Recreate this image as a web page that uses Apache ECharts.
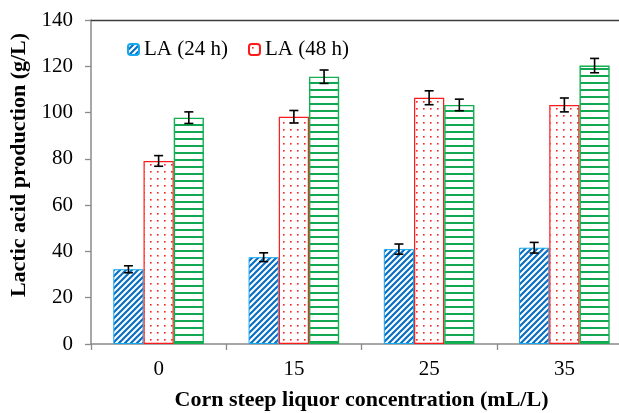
<!DOCTYPE html>
<html>
<head>
<meta charset="utf-8">
<script src="https://cdn.jsdelivr.net/npm/echarts@6/dist/echarts.min.js"></script>
<style>
  html, body { margin: 0; padding: 0; background: #fff; }
  #chart { width: 619px; height: 413px; }
</style>
</head>
<body>
<div id="chart"></div>
<script>
// Corn steep liquor concentrations (mL/L)
const categories = ['0', '15', '25', '35'];

// Lactic acid production (g/L) with standard deviations
const la24 = [32.3, 37.5, 41.0, 41.6];
const la24Err = [1.5, 1.9, 2.2, 2.3];
const la48 = [79.1, 98.2, 106.4, 103.3];
const la48Err = [2.3, 2.7, 3.0, 3.0];
const la72 = [97.8, 115.5, 103.3, 120.3];
const la72Err = [2.5, 2.9, 2.5, 3.1];

const yTicks = { min: 0, max: 140, interval: 20 };

const FONT = '"Liberation Serif", "Times New Roman", serif';
const CAT_GAP = 0.33;   // fraction of band left empty between groups
const N_BARS = 3;

// ---- fill patterns ----
function makeTile(w, h, draw) {
  const c = document.createElement('canvas');
  c.width = w; c.height = h;
  const ctx = c.getContext('2d');
  ctx.fillStyle = '#ffffff';
  ctx.fillRect(0, 0, w, h);
  draw(ctx, w, h);
  return c;
}

const stripeTile = makeTile(6, 6, (ctx, w, h) => {
  ctx.strokeStyle = '#0a6fc2';
  ctx.lineWidth = 2.2;
  ctx.beginPath();
  ctx.moveTo(-1, h + 1); ctx.lineTo(w + 1, -1);
  ctx.moveTo(-1, 1); ctx.lineTo(1, -1);
  ctx.moveTo(w - 1, h + 1); ctx.lineTo(w + 1, h - 1);
  ctx.stroke();
});

const dotTile = makeTile(7, 7, (ctx) => {
  ctx.fillStyle = '#ff2020';
  ctx.fillRect(3, 3, 1.6, 1.6);
});

const lineTile = makeTile(4, 7, (ctx, w) => {
  ctx.fillStyle = '#12a852';
  ctx.fillRect(0, 5, w, 2);
});

function pattern(tile) {
  return { image: tile, repeat: 'repeat' };
}

// ---- error bars drawn on top of each bar series ----
function errorSeries(name, values, errs, slot) {
  return {
    type: 'custom',
    name: name + ' err',
    z: 10,
    silent: true,
    data: values.map((v, i) => [i, v, errs[i]]),
    renderItem(params, api) {
      const idx = api.value(0);
      const v = api.value(1);
      const e = api.value(2);
      const band = api.size([1, 0])[0];
      const barW = band * (1 - CAT_GAP) / N_BARS;
      const cx = api.coord([idx, v])[0] + (slot - (N_BARS - 1) / 2) * barW;
      const yHi = api.coord([idx, v + e])[1];
      const yLo = api.coord([idx, v - e])[1];
      const cap = 4.5;
      const st = { stroke: '#000', lineWidth: 1.6 };
      return {
        type: 'group',
        children: [
          { type: 'line', shape: { x1: cx, y1: yHi, x2: cx, y2: yLo }, style: st },
          { type: 'line', shape: { x1: cx - cap, y1: yHi, x2: cx + cap, y2: yHi }, style: st },
          { type: 'line', shape: { x1: cx - cap, y1: yLo, x2: cx + cap, y2: yLo }, style: st }
        ]
      };
    }
  };
}

const chart = echarts.init(document.getElementById('chart'), null, { renderer: 'canvas' });

chart.setOption({
  animation: false,
  backgroundColor: '#ffffff',
  textStyle: { fontFamily: FONT },
  grid: { left: 91, top: 20, width: 541, height: 324, containLabel: false, outerBoundsMode: 'none' },
  legend: {
    data: ['LA (24 h)', 'LA (48 h)'],
    left: 122,
    top: 34,
    itemWidth: 11,
    itemHeight: 11,
    itemGap: 20,
    textStyle: { fontFamily: FONT, fontSize: 21, color: '#000', padding: [2, 0, 0, 0] }
  },
  xAxis: {
    type: 'category',
    data: categories,
    name: 'Corn steep liquor concentration (mL/L)',
    nameLocation: 'middle',
    nameGap: 45,
    nameTextStyle: { fontFamily: FONT, fontSize: 22, fontWeight: 'bold', color: '#000' },
    axisLine: { lineStyle: { color: '#8a8a8a', width: 1.5 } },
    axisTick: { show: true, interval: 0, alignWithLabel: false, length: 6, lineStyle: { color: '#8a8a8a', width: 1.3 } },
    axisLabel: { fontFamily: FONT, fontSize: 21, color: '#000', margin: 15 },
    splitLine: { show: false }
  },
  yAxis: {
    type: 'value',
    min: yTicks.min,
    max: yTicks.max,
    interval: yTicks.interval,
    name: 'Lactic acid production (g/L)',
    nameLocation: 'middle',
    nameGap: 54,
    nameRotate: 90,
    nameTextStyle: { fontFamily: FONT, fontSize: 22, fontWeight: 'bold', color: '#000', padding: [0, 0, 0, 34] },
    axisLine: { show: true, lineStyle: { color: '#8a8a8a', width: 1.5 } },
    axisTick: { show: true, length: 6, lineStyle: { color: '#8a8a8a', width: 1.3 } },
    axisLabel: { fontFamily: FONT, fontSize: 21, color: '#000', margin: 18 },
    splitLine: { show: false }
  },
  graphic: [
    { type: 'line', z: 50, shape: { x1: 91, y1: 20.5, x2: 619, y2: 20.5 }, style: { stroke: '#3c3c3c', lineWidth: 1.6 } }
  ],
  series: [
    {
      type: 'bar', name: 'LA (24 h)', data: la24,
      barGap: '0%', barCategoryGap: (CAT_GAP * 100) + '%',
      itemStyle: { color: pattern(stripeTile), borderColor: '#14a8ee', borderWidth: 1 }
    },
    {
      type: 'bar', name: 'LA (48 h)', data: la48,
      barGap: '0%', barCategoryGap: (CAT_GAP * 100) + '%',
      itemStyle: { color: pattern(dotTile), borderColor: '#ff1a1a', borderWidth: 1.2 }
    },
    {
      type: 'bar', name: 'LA (72 h)', data: la72,
      barGap: '0%', barCategoryGap: (CAT_GAP * 100) + '%',
      itemStyle: { color: pattern(lineTile), borderColor: '#12b050', borderWidth: 1.4 }
    },
    errorSeries('LA (24 h)', la24, la24Err, 0),
    errorSeries('LA (48 h)', la48, la48Err, 1),
    errorSeries('LA (72 h)', la72, la72Err, 2)
  ]
});
</script>
</body>
</html>
